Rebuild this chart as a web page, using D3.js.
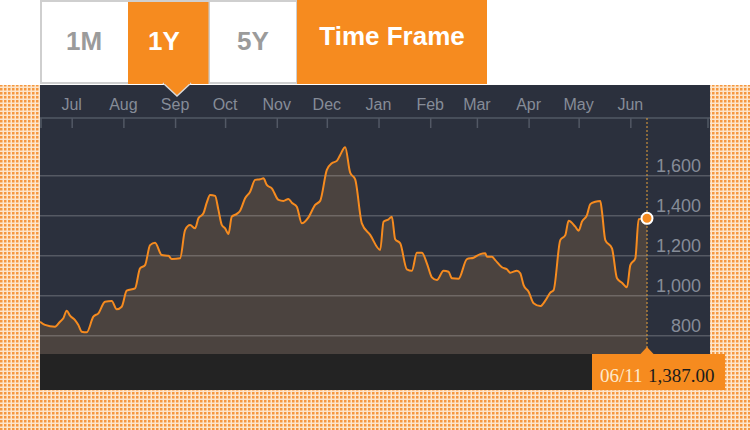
<!DOCTYPE html>
<html>
<head>
<meta charset="utf-8">
<script src="https://cdn.jsdelivr.net/npm/d3@7"></script>
<style>
  html, body { margin: 0; padding: 0; background: #ffffff; }
  svg { display: block; }
</style>
</head>
<body>
<svg id="chart" width="750" height="430"></svg>
<script>
// ---------- data ----------
const dates = [
  "2014-06-12","2014-06-15","2014-06-21","2014-06-24","2014-06-26","2014-06-28","2014-06-30",
  "2014-07-03","2014-07-05","2014-07-07","2014-07-10","2014-07-14","2014-07-17","2014-07-21",
  "2014-07-25","2014-07-28","2014-07-31","2014-08-03","2014-08-08","2014-08-11","2014-08-14",
  "2014-08-17","2014-08-20","2014-08-24","2014-08-28","2014-08-30","2014-09-04","2014-09-07",
  "2014-09-10","2014-09-13","2014-09-15","2014-09-18","2014-09-20","2014-09-22","2014-09-25",
  "2014-09-27","2014-09-29","2014-10-01","2014-10-03","2014-10-05","2014-10-08","2014-10-10",
  "2014-10-13","2014-10-16","2014-10-19","2014-10-22","2014-10-24","2014-10-26","2014-10-29",
  "2014-11-02","2014-11-05","2014-11-08","2014-11-10","2014-11-13","2014-11-16","2014-11-20",
  "2014-11-24","2014-11-27","2014-12-01","2014-12-04","2014-12-07","2014-12-09","2014-12-12",
  "2014-12-15","2014-12-18","2014-12-22","2014-12-27","2015-01-02","2015-01-04","2015-01-07",
  "2015-01-09","2015-01-11","2015-01-14","2015-01-18","2015-01-21","2015-01-24","2015-01-27",
  "2015-01-30","2015-02-02","2015-02-05","2015-02-09","2015-02-12","2015-02-14","2015-02-18",
  "2015-02-23","2015-02-27","2015-03-03","2015-03-06","2015-03-07","2015-03-10","2015-03-12",
  "2015-03-16","2015-03-19","2015-03-21","2015-03-25","2015-03-27","2015-03-29","2015-04-01",
  "2015-04-04","2015-04-08","2015-04-11","2015-04-14","2015-04-16","2015-04-20","2015-04-23",
  "2015-04-25","2015-04-29","2015-05-01","2015-05-03","2015-05-06","2015-05-08","2015-05-11",
  "2015-05-14","2015-05-15","2015-05-17","2015-05-21","2015-05-24","2015-05-27","2015-05-30",
  "2015-06-01","2015-06-04","2015-06-06","2015-06-11"
];
const values = [
  870, 854, 845, 870, 887, 925, 900,
  878, 853, 820, 817, 895, 912, 970,
  973, 932, 945, 1025, 1037, 1137, 1153,
  1253, 1265, 1203, 1200, 1183, 1187, 1328,
  1353, 1337, 1387, 1412, 1465, 1504, 1499,
  1429, 1354, 1337, 1309, 1395, 1409, 1425,
  1487, 1520, 1579, 1582, 1587, 1554, 1537,
  1479, 1474, 1484, 1465, 1445, 1362, 1392,
  1454, 1474, 1629, 1662, 1674, 1704, 1742,
  1615, 1582, 1362, 1304, 1229, 1370, 1382,
  1395, 1282, 1262, 1132, 1125, 1215, 1215,
  1162, 1092, 1078, 1125, 1120, 1087, 1085,
  1183, 1190, 1208, 1212, 1195, 1195, 1178,
  1142, 1132, 1115, 1125, 1112, 1053, 1020,
  962, 948, 975, 1015, 1028, 1278, 1303,
  1375, 1345, 1325, 1370, 1403, 1458, 1470,
  1474, 1420, 1278, 1237, 1087, 1065, 1042,
  1153, 1187, 1382, 1387
];
const yTicks = [800, 1000, 1200, 1400, 1600];
const rangeButtons = ["1M", "1Y", "5Y"];
const activeButton = "1Y";
const headerTitle = "Time Frame";
const lastDateLabel = "06/11";

// ---------- setup ----------
const parse = d3.timeParse("%Y-%m-%d");
const data = dates.map((d, i) => ({ date: parse(d), value: values[i] }));
const last = data[data.length - 1];

const svg = d3.select("#chart");
const ORANGE = "#f68b1f";

const panel = { left: 40, right: 710, top: 85, bottom: 390 };
const plotBottom = 354;
const axisY = 118;

const x = d3.scaleTime()
  .domain([data[0].date, last.date])
  .range([40, 647]);
const y = d3.scaleLinear()
  .domain([800, 1600])
  .range([335.7, 175.7]);

// ---------- background pattern ----------
const defs = svg.append("defs");
const pat = defs.append("pattern")
  .attr("id", "dots").attr("width", 4).attr("height", 4)
  .attr("patternUnits", "userSpaceOnUse");
pat.append("rect").attr("width", 4).attr("height", 4).attr("fill", "#fde6cc");
pat.append("rect").attr("width", 2.5).attr("height", 2.5).attr("fill", "#f59840");

svg.append("rect")
  .attr("x", 0).attr("y", panel.top)
  .attr("width", 750).attr("height", 430 - panel.top)
  .attr("fill", "url(#dots)");

// ---------- panel ----------
svg.append("rect")
  .attr("x", panel.left).attr("y", panel.top)
  .attr("width", panel.right - panel.left).attr("height", panel.bottom - panel.top)
  .attr("fill", "#2b303d");

// area
const area = d3.area()
  .x(d => x(d.date))
  .y0(plotBottom)
  .y1(d => y(d.value))
  .curve(d3.curveMonotoneX);
svg.append("path").datum(data)
  .attr("d", area)
  .attr("fill", "#4b433f");

// gridlines
svg.append("g").selectAll("line").data(yTicks).join("line")
  .attr("x1", panel.left).attr("x2", panel.right)
  .attr("y1", d => y(d)).attr("y2", d => y(d))
  .attr("stroke", "rgba(255,255,255,0.2)")
  .attr("stroke-width", 1.6);

// y labels
svg.append("g").selectAll("text").data(yTicks).join("text")
  .attr("x", 701).attr("y", d => y(d) - 4)
  .attr("text-anchor", "end")
  .attr("font-family", "'Liberation Sans', Arial, sans-serif")
  .attr("font-size", 18)
  .attr("fill", "#868c98")
  .text(d => d3.format(",")(d));

// line
const line = d3.line()
  .x(d => x(d.date))
  .y(d => y(d.value))
  .curve(d3.curveMonotoneX);
svg.append("path").datum(data)
  .attr("d", line)
  .attr("fill", "none")
  .attr("stroke", ORANGE)
  .attr("stroke-width", 2)
  .attr("stroke-linejoin", "round");

// bottom band
svg.append("rect")
  .attr("x", panel.left).attr("y", plotBottom)
  .attr("width", panel.right - panel.left).attr("height", panel.bottom - plotBottom)
  .attr("fill", "#232323");

// x axis
svg.append("line")
  .attr("x1", panel.left).attr("x2", panel.right)
  .attr("y1", axisY).attr("y2", axisY)
  .attr("stroke", "#525865").attr("stroke-width", 1.5);
[panel.left + 1, panel.right - 2].forEach(px => {
  svg.append("line")
    .attr("x1", px).attr("x2", px).attr("y1", axisY).attr("y2", axisY + 10)
    .attr("stroke", "#525865").attr("stroke-width", 1.5);
});
const xAxis = d3.axisBottom(x)
  .ticks(d3.timeMonth.every(1))
  .tickSize(10).tickSizeOuter(0)
  .tickFormat("");
const gx = svg.append("g").attr("transform", `translate(0,${axisY})`).call(xAxis);
gx.select(".domain").remove();
gx.selectAll(".tick line").attr("stroke", "#525865").attr("stroke-width", 1.5);

const months = x.ticks(d3.timeMonth.every(1));
svg.append("g").selectAll("text").data(months).join("text")
  .attr("x", d => x(d)).attr("y", 110)
  .attr("text-anchor", "middle")
  .attr("font-family", "'Liberation Sans', Arial, sans-serif")
  .attr("font-size", 16)
  .attr("fill", "#868c98")
  .text(d => d3.timeFormat("%b")(d));

// dotted current line
svg.append("line")
  .attr("x1", x(last.date)).attr("x2", x(last.date))
  .attr("y1", axisY).attr("y2", plotBottom)
  .attr("stroke", "#e9a23b").attr("stroke-width", 1)
  .attr("stroke-dasharray", "2,2");

// last point
svg.append("circle")
  .attr("cx", x(last.date)).attr("cy", y(last.value))
  .attr("r", 5.5)
  .attr("fill", ORANGE).attr("stroke", "#ffffff").attr("stroke-width", 2);

// value tag
const lx = x(last.date);
svg.append("rect")
  .attr("x", 592).attr("y", plotBottom)
  .attr("width", 133).attr("height", panel.bottom - plotBottom)
  .attr("fill", ORANGE);
svg.append("path")
  .attr("d", `M${lx - 7},${plotBottom + 0.5} L${lx},${plotBottom - 7} L${lx + 7},${plotBottom + 0.5} Z`)
  .attr("fill", ORANGE);
const tag = svg.append("text")
  .attr("x", 600).attr("y", 382)
  .attr("font-family", "'Liberation Serif', 'DejaVu Serif', serif")
  .attr("font-size", 19);
tag.append("tspan").attr("fill", "#fde9cc").text(lastDateLabel);
tag.append("tspan").attr("fill", "#1b1b1b").attr("dx", 6).text(d3.format(",.2f")(last.value));

// ---------- buttons ----------
const btnX = [40, 127.5, 208.5, 297];
svg.append("rect")
  .attr("x", 41).attr("y", 1).attr("width", 256).attr("height", 82)
  .attr("fill", "#ffffff").attr("stroke", "#cfcfcf").attr("stroke-width", 2);
svg.append("line").attr("x1", 209).attr("x2", 209).attr("y1", 0).attr("y2", 84)
  .attr("stroke", "#cfcfcf").attr("stroke-width", 2);
const activeIdx = rangeButtons.indexOf(activeButton);
svg.append("rect")
  .attr("x", btnX[activeIdx] + 0.5).attr("y", 2)
  .attr("width", btnX[activeIdx + 1] - btnX[activeIdx] - 0.5).attr("height", 82)
  .attr("fill", ORANGE);
const tcx = (btnX[activeIdx] + btnX[activeIdx + 1]) / 2 + 9;
svg.append("path")
  .attr("d", `M${tcx - 14},83 L${tcx},96 L${tcx + 14},83`)
  .attr("fill", ORANGE).attr("stroke", "#d9d9d9").attr("stroke-width", 1.5);
svg.append("rect")
  .attr("x", tcx - 13).attr("y", 80).attr("width", 26).attr("height", 4)
  .attr("fill", ORANGE);

const labelCx = [84, 164, 253];
svg.append("g").selectAll("text").data(rangeButtons).join("text")
  .attr("x", (d, i) => labelCx[i]).attr("y", 50)
  .attr("text-anchor", "middle")
  .attr("font-family", "'Liberation Sans', Arial, sans-serif")
  .attr("font-weight", "bold")
  .attr("font-size", 26)
  .attr("fill", d => d === activeButton ? "#ffffff" : "#9b9b9b")
  .text(d => d);

svg.append("rect")
  .attr("x", 297).attr("y", 0).attr("width", 190).attr("height", 84)
  .attr("fill", ORANGE);
svg.append("text")
  .attr("x", 392).attr("y", 45)
  .attr("text-anchor", "middle")
  .attr("font-family", "'Liberation Sans', Arial, sans-serif")
  .attr("font-weight", "bold")
  .attr("font-size", 26)
  .attr("fill", "#ffffff")
  .text(headerTitle);
</script>
</body>
</html>
